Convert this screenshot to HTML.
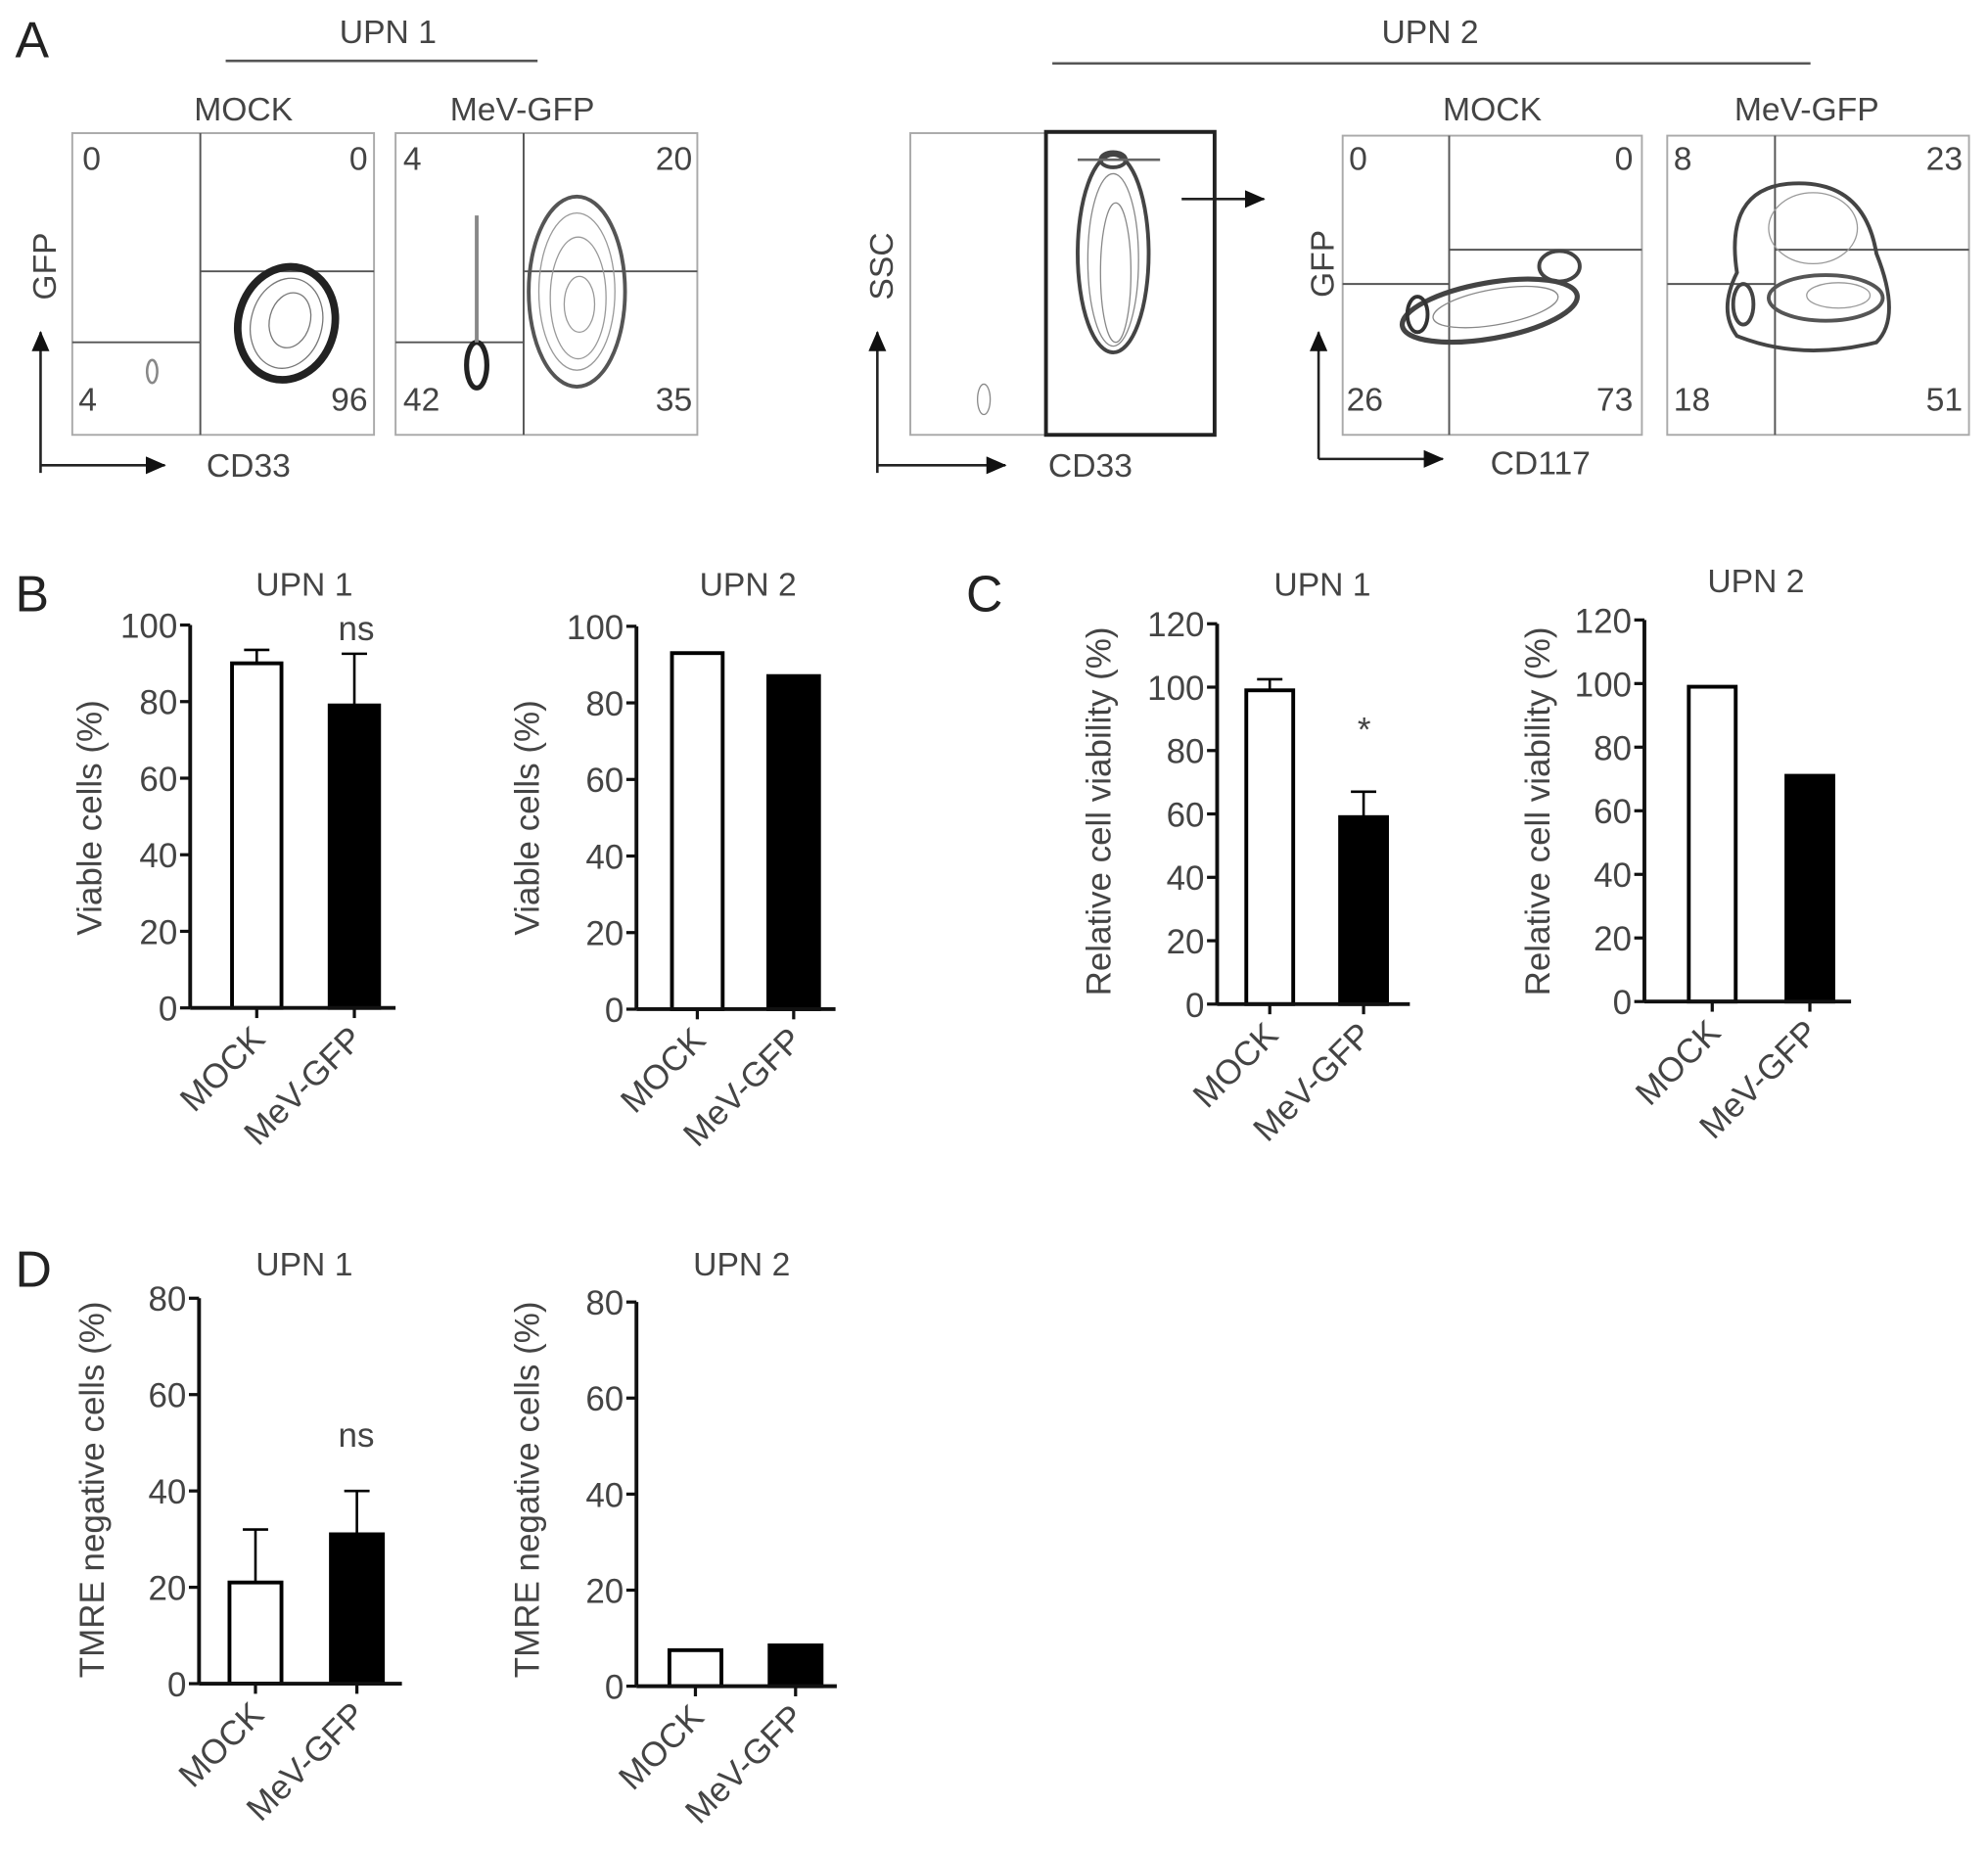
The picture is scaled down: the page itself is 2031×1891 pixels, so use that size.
<!DOCTYPE html>
<html><head><meta charset="utf-8"><style>
html,body{margin:0;padding:0;background:#fff;}
svg{display:block;}
text{font-family:"Liberation Sans",sans-serif;}
</style></head><body>
<svg id="fig" width="2031" height="1891" viewBox="0 0 1568 1460" preserveAspectRatio="none" xmlns="http://www.w3.org/2000/svg">
<defs>
<marker id="arr" markerWidth="16" markerHeight="14" refX="15" refY="7" orient="auto" markerUnits="userSpaceOnUse"><path d="M0,0 L16,7 L0,14z" fill="#111"/></marker>
</defs>
<g fill="#444" font-size="26">
<text x="12" y="45" font-size="40" fill="#222">A</text>
<text x="306" y="34" text-anchor="middle">UPN 1</text>
<line x1="178" y1="48" x2="424" y2="48" stroke="#555" stroke-width="2"/>
<text x="1128" y="34" text-anchor="middle">UPN 2</text>
<line x1="830" y1="50" x2="1428" y2="50" stroke="#555" stroke-width="2"/>

<g>
<text x="192" y="95" text-anchor="middle">MOCK</text>
<rect x="57" y="105" width="238" height="238" fill="none" stroke="#aaa" stroke-width="1.5"/>
<line x1="158" y1="105" x2="158" y2="343" stroke="#555" stroke-width="1.5"/>
<line x1="57" y1="270" x2="158" y2="270" stroke="#555" stroke-width="1.5"/>
<line x1="158" y1="214" x2="295" y2="214" stroke="#555" stroke-width="1.5"/>
<g fill="none" stroke="#777">
<ellipse cx="226" cy="255" rx="38" ry="45" stroke="#222" stroke-width="6" transform="rotate(15 226 255)"/>
<ellipse cx="226" cy="255" rx="28" ry="36" transform="rotate(15 226 255)"/>
<ellipse cx="228" cy="252" rx="16" ry="22" transform="rotate(15 226 255)"/>
<ellipse cx="120" cy="293" rx="4" ry="9" stroke="#888" stroke-width="2"/>
</g>
<text x="65" y="134">0</text><text x="290" y="134" text-anchor="end">0</text>
<text x="62" y="324">4</text><text x="290" y="324" text-anchor="end">96</text>
</g>
<g>
<text x="412" y="95" text-anchor="middle">MeV-GFP</text>
<rect x="312" y="105" width="238" height="238" fill="none" stroke="#aaa" stroke-width="1.5"/>
<line x1="413" y1="105" x2="413" y2="343" stroke="#555" stroke-width="1.5"/>
<line x1="312" y1="270" x2="413" y2="270" stroke="#555" stroke-width="1.5"/>
<line x1="413" y1="214" x2="550" y2="214" stroke="#555" stroke-width="1.5"/>
<g fill="none" stroke="#999">
<ellipse cx="455" cy="230" rx="38" ry="75" stroke="#555" stroke-width="3"/>
<ellipse cx="455" cy="230" rx="30" ry="62"/>
<ellipse cx="456" cy="235" rx="22" ry="48"/>
<ellipse cx="457" cy="240" rx="12" ry="22"/>
<ellipse cx="376" cy="288" rx="8" ry="18" stroke="#222" stroke-width="4"/>
<line x1="376" y1="170" x2="376" y2="270" stroke="#888" stroke-width="3"/>
</g>
<text x="318" y="134">4</text><text x="546" y="134" text-anchor="end">20</text>
<text x="318" y="324">42</text><text x="546" y="324" text-anchor="end">35</text>
</g>
<g>
<line x1="32" y1="373" x2="32" y2="262" stroke="#222" stroke-width="2" marker-end="url(#arr)"/>
<line x1="32" y1="367" x2="130" y2="367" stroke="#222" stroke-width="2" marker-end="url(#arr)"/>
<text x="44" y="210" text-anchor="middle" transform="rotate(-90 44 210)">GFP</text>
<text x="196" y="376" text-anchor="middle">CD33</text>
</g>
<g>
<rect x="718" y="105" width="240" height="238" fill="none" stroke="#aaa" stroke-width="1.5"/>
<rect x="825" y="104" width="133" height="239" fill="none" stroke="#222" stroke-width="3"/>
<g fill="none" stroke="#888">
<ellipse cx="878" cy="200" rx="28" ry="78" stroke="#444" stroke-width="3"/>
<ellipse cx="878" cy="205" rx="20" ry="68"/>
<ellipse cx="880" cy="215" rx="12" ry="55"/>
<ellipse cx="878" cy="126" rx="10" ry="6" stroke="#444" stroke-width="3"/>
<line x1="850" y1="126" x2="915" y2="126" stroke="#666" stroke-width="2"/>
<ellipse cx="776" cy="315" rx="5" ry="12"/>
</g>
<line x1="932" y1="157" x2="997" y2="157" stroke="#222" stroke-width="2" marker-end="url(#arr)"/>
<line x1="692" y1="373" x2="692" y2="262" stroke="#222" stroke-width="2" marker-end="url(#arr)"/>
<line x1="692" y1="367" x2="793" y2="367" stroke="#222" stroke-width="2" marker-end="url(#arr)"/>
<text x="704" y="210" text-anchor="middle" transform="rotate(-90 704 210)">SSC</text>
<text x="860" y="376" text-anchor="middle">CD33</text>
</g>
<g>
<text x="1177" y="95" text-anchor="middle">MOCK</text>
<rect x="1059" y="107" width="236" height="236" fill="none" stroke="#aaa" stroke-width="1.5"/>
<line x1="1143" y1="107" x2="1143" y2="343" stroke="#555" stroke-width="1.5"/>
<line x1="1059" y1="224" x2="1143" y2="224" stroke="#555" stroke-width="1.5"/>
<line x1="1143" y1="197" x2="1295" y2="197" stroke="#555" stroke-width="1.5"/>
<g fill="none" stroke="#888">
<ellipse cx="1175" cy="245" rx="70" ry="22" stroke="#444" stroke-width="4" transform="rotate(-10 1175 245)"/>
<ellipse cx="1180" cy="243" rx="50" ry="14" transform="rotate(-10 1175 245)"/>
<ellipse cx="1118" cy="248" rx="8" ry="14" stroke="#333" stroke-width="3"/>
<ellipse cx="1230" cy="210" rx="16" ry="12" stroke="#444" stroke-width="3"/>
</g>
<text x="1064" y="134">0</text><text x="1288" y="134" text-anchor="end">0</text>
<text x="1062" y="324">26</text><text x="1288" y="324" text-anchor="end">73</text>
</g>
<g>
<text x="1425" y="95" text-anchor="middle">MeV-GFP</text>
<rect x="1315" y="107" width="238" height="236" fill="none" stroke="#aaa" stroke-width="1.5"/>
<line x1="1400" y1="107" x2="1400" y2="343" stroke="#555" stroke-width="1.5"/>
<line x1="1315" y1="224" x2="1400" y2="224" stroke="#555" stroke-width="1.5"/>
<line x1="1400" y1="197" x2="1553" y2="197" stroke="#555" stroke-width="1.5"/>
<g fill="none" stroke="#999">
<path d="M1370,215 Q1360,150 1410,145 Q1470,140 1480,200 Q1500,250 1480,270 Q1420,285 1370,265 Q1355,245 1370,215z" stroke="#444" stroke-width="3"/>
<ellipse cx="1430" cy="180" rx="35" ry="28"/>
<ellipse cx="1440" cy="235" rx="45" ry="18" stroke="#555" stroke-width="3"/>
<ellipse cx="1450" cy="233" rx="25" ry="10"/>
<ellipse cx="1375" cy="240" rx="8" ry="16" stroke="#444" stroke-width="3"/>
</g>
<text x="1320" y="134">8</text><text x="1548" y="134" text-anchor="end">23</text>
<text x="1320" y="324">18</text><text x="1548" y="324" text-anchor="end">51</text>
</g>
<g>
<line x1="1040" y1="362" x2="1040" y2="262" stroke="#222" stroke-width="2" marker-end="url(#arr)"/>
<line x1="1040" y1="362" x2="1138" y2="362" stroke="#222" stroke-width="2" marker-end="url(#arr)"/>
<text x="1052" y="208" text-anchor="middle" transform="rotate(-90 1052 208)">GFP</text>
<text x="1215" y="374" text-anchor="middle">CD117</text>
</g>
</g>
<text x="12" y="482" font-size="40" fill="#222">B</text>
<text x="762" y="482" font-size="40" fill="#222">C</text>
<text x="12" y="1015" font-size="40" fill="#222">D</text>
<g id="charts"></g>
</svg>
<script>
const categories = ["MOCK", "MeV-GFP"];
const bUpn1Values = [90, 79];
const bUpn1Errors = [93.5, 92.5];
const bUpn2Values = [93, 87];
const cUpn1Values = [99, 59];
const cUpn1Errors = [102.5, 67];
const cUpn2Values = [99, 71];
const dUpn1Values = [21, 31];
const dUpn1Errors = [32, 40];
const dUpn2Values = [7.5, 8.5];
const ticksB = [0, 20, 40, 60, 80, 100];
const ticksC = [0, 20, 40, 60, 80, 100, 120];
const ticksD = [0, 20, 40, 60, 80];

const NS = "http://www.w3.org/2000/svg";
const root = document.getElementById("charts");
function mk(tag, attrs, parent) {
  const e = document.createElementNS(NS, tag);
  for (const k in attrs) e.setAttribute(k, attrs[k]);
  parent.appendChild(e);
  return e;
}
function chart(o) {
  const g = mk("g", {}, root);
  
  
  const max = o.ticks[o.ticks.length - 1];
  const y = v => o.y0 - (v / max) * (o.y0 - o.yTop);
  const bx = i => o.barX[i];
  const t = mk("text", {x: o.titleX, y: o.titleY, "text-anchor": "middle", "font-size": 26, fill: "#444"}, g);
  t.textContent = o.title;
  
  
  o.ticks.forEach(v => {
    mk("line", {x1: o.ax - 8, x2: o.ax, y1: y(v), y2: y(v), stroke: "#111", "stroke-width": 2.5}, g);
    const tl = mk("text", {x: o.ax - 10, y: y(v) + 10, "text-anchor": "end", "font-size": 27, fill: "#444"}, g);
    tl.textContent = v;
    
    
  });
  const yl = mk("text", {x: o.ylx, y: o.yly, "text-anchor": "middle", "font-size": 27, fill: "#444", transform: `rotate(-90 ${o.ylx} ${o.yly})`}, g);
  yl.textContent = o.ylabel;
  
  
  o.values.forEach((v, i) => {
    const x = bx(i), w = o.barW;
    const r = mk("rect", {x: x, y: y(v), width: w, height: o.y0 - y(v), fill: i === 0 ? "#fff" : "#000", stroke: "#000", "stroke-width": 3}, g);
    
    
    if (o.errors) {
      const cx = x + w / 2;
      mk("line", {x1: cx, x2: cx, y1: y(v), y2: y(o.errors[i]), stroke: "#000", "stroke-width": 2}, g);
      mk("line", {x1: cx - 10, x2: cx + 10, y1: y(o.errors[i]), y2: y(o.errors[i]), stroke: "#000", "stroke-width": 2}, g);
    }
    const cx = x + w / 2;
    mk("line", {x1: cx, x2: cx, y1: o.y0, y2: o.y0 + 8, stroke: "#111", "stroke-width": 2.5}, g);
    const cl = mk("text", {x: cx + 8, y: o.y0 + 26, "text-anchor": "end", "font-size": 27, fill: "#444", transform: `rotate(-45 ${cx + 8} ${o.y0 + 26})`}, g);
    cl.textContent = categories[i];
    
    
  });
  mk("line", {x1: o.ax, x2: o.ax, y1: o.yTop, y2: o.y0, stroke: "#111", "stroke-width": 3}, g);
  mk("line", {x1: o.ax, x2: o.axEnd, y1: o.y0, y2: o.y0, stroke: "#111", "stroke-width": 3}, g);
  if (o.sig) {
    const s = mk("text", {x: o.sigX, y: o.sigY, "text-anchor": "middle", "font-size": 27, fill: "#444"}, g);
    s.textContent = o.sig;
    
    
  }
}
chart({name: "chart-b-upn1", title: "UPN 1", titleX: 240, titleY: 470, ax: 150, axEnd: 312, y0: 795, yTop: 493, ticks: ticksB, values: bUpn1Values, errors: bUpn1Errors, barX: [183, 260], barW: 39, ylabel: "Viable cells (%)", ylx: 80, yly: 645, sig: "ns", sigX: 281, sigY: 505});
chart({name: "chart-b-upn2", title: "UPN 2", titleX: 590, titleY: 470, ax: 502, axEnd: 659, y0: 796, yTop: 494, ticks: ticksB, values: bUpn2Values, barX: [530, 606], barW: 40, ylabel: "Viable cells (%)", ylx: 425, yly: 645});
chart({name: "chart-c-upn1", title: "UPN 1", titleX: 1043, titleY: 470, ax: 960, axEnd: 1112, y0: 792, yTop: 492, ticks: ticksC, values: cUpn1Values, errors: cUpn1Errors, barX: [983, 1057], barW: 37, ylabel: "Relative cell viability (%)", ylx: 876, yly: 640, sig: "*", sigX: 1076, sigY: 585});
chart({name: "chart-c-upn2", title: "UPN 2", titleX: 1385, titleY: 467, ax: 1297, axEnd: 1460, y0: 790, yTop: 489, ticks: ticksC, values: cUpn2Values, barX: [1332, 1409], barW: 37, ylabel: "Relative cell viability (%)", ylx: 1222, yly: 640});
chart({name: "chart-d-upn1", title: "UPN 1", titleX: 240, titleY: 1006, ax: 157, axEnd: 317, y0: 1328, yTop: 1024, ticks: ticksD, values: dUpn1Values, errors: dUpn1Errors, barX: [181, 261], barW: 41, ylabel: "TMRE negative cells (%)", ylx: 82, yly: 1175, sig: "ns", sigX: 281, sigY: 1141});
chart({name: "chart-d-upn2", title: "UPN 2", titleX: 585, titleY: 1006, ax: 502, axEnd: 660, y0: 1330, yTop: 1027, ticks: ticksD, values: dUpn2Values, barX: [528, 607], barW: 41, ylabel: "TMRE negative cells (%)", ylx: 425, yly: 1175});
</script>
</body></html>
